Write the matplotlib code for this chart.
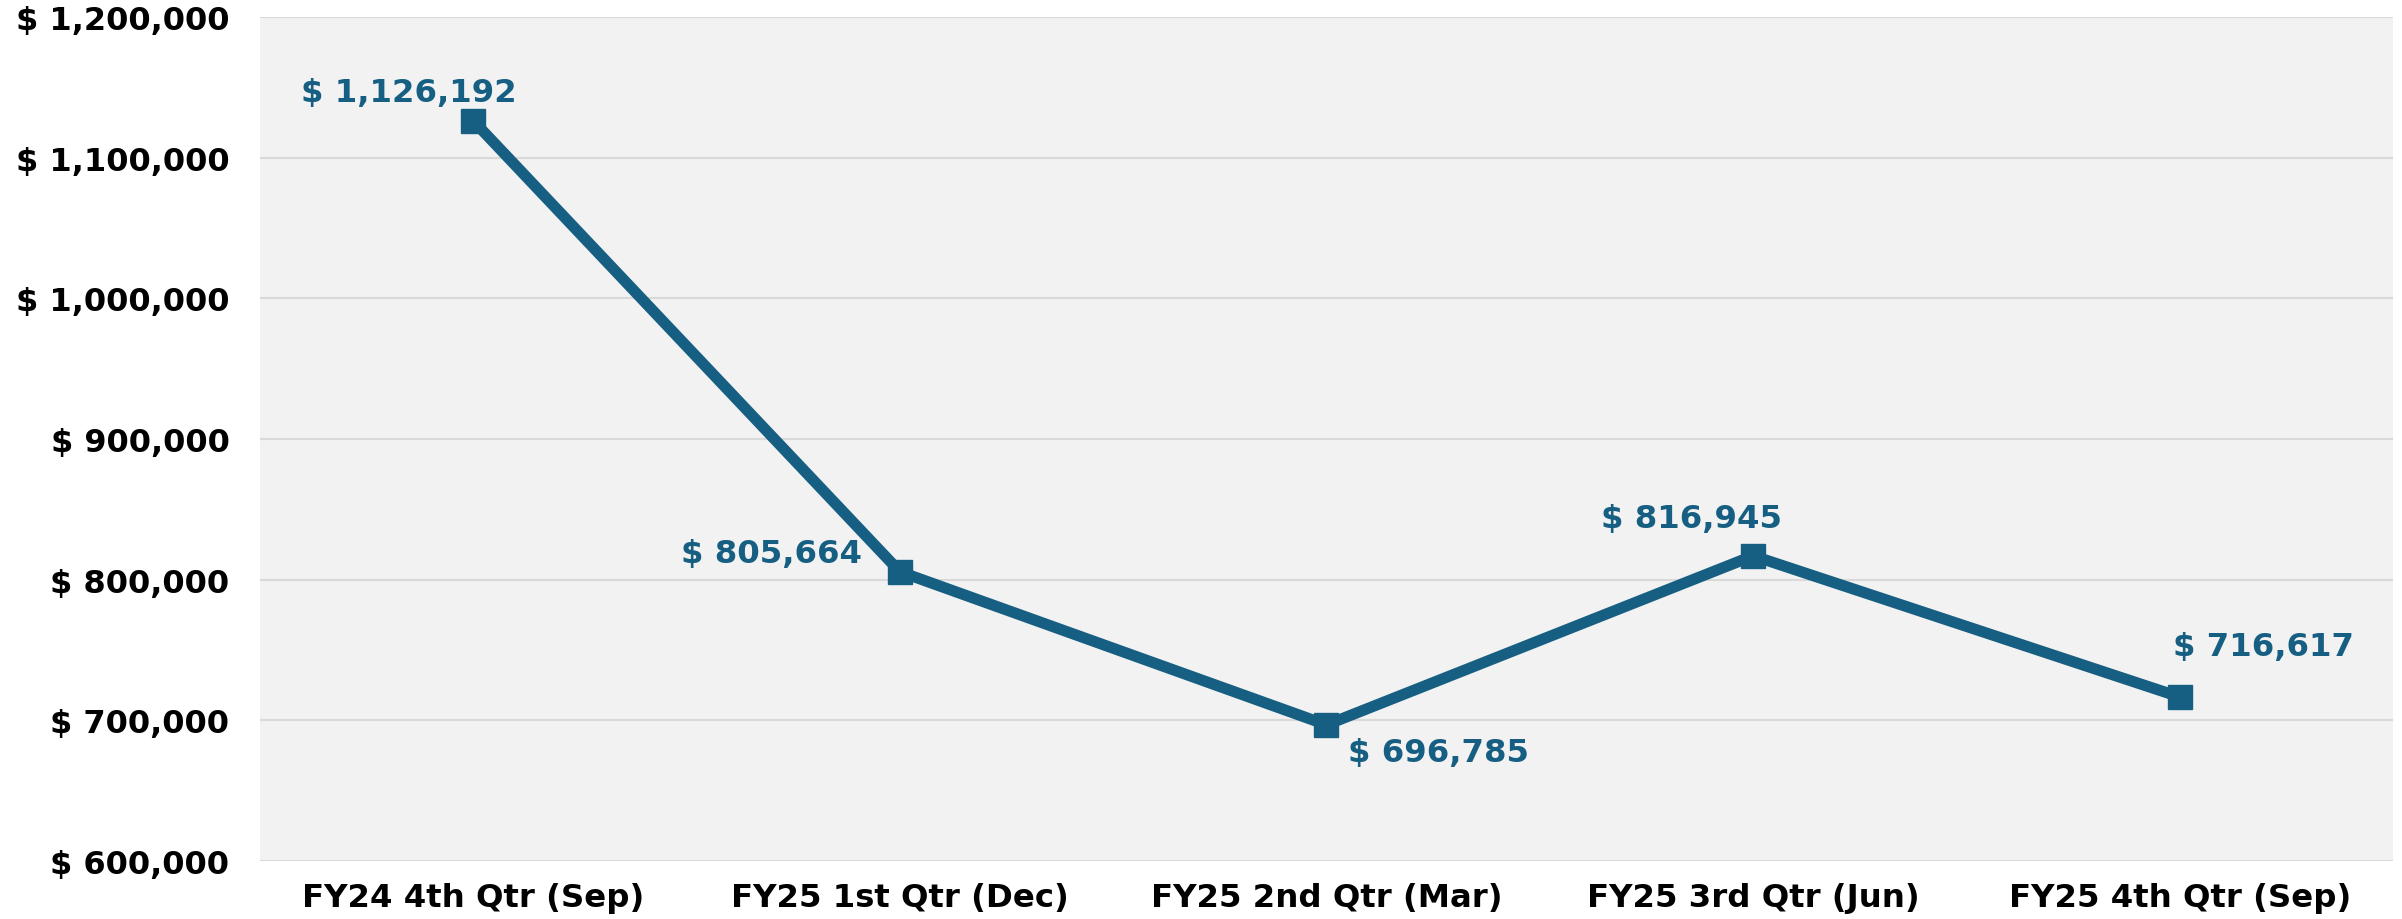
import matplotlib
matplotlib.use("Agg")
import matplotlib.pyplot as plt
from matplotlib.ticker import FuncFormatter

categories = ["FY24 4th Qtr (Sep)", "FY25 1st Qtr (Dec)", "FY25 2nd Qtr (Mar)",
              "FY25 3rd Qtr (Jun)", "FY25 4th Qtr (Sep)"]
values = [1126192, 805664, 696785, 816945, 716617]
yticks = [600000, 700000, 800000, 900000, 1000000, 1100000, 1200000]

color = "#175F82"
plt.rcParams['font.family'] = ['DejaVu Sans']

fig = plt.figure(figsize=(24.02, 9.2), dpi=100)
ax = fig.add_axes([260/2402, 1 - 862/920, (2393-260)/2402, (862-18)/920])
ax.set_facecolor("#F2F2F2")
x = list(range(len(categories)))
ax.plot(x, values, color=color, lw=8, marker="s", markersize=17, zorder=3,
        solid_capstyle="round", solid_joinstyle="round")
ax.set_xlim(-0.5, len(categories) - 0.5)
ax.set_ylim(600000, 1200000)
ax.set_yticks(yticks)
ax.yaxis.set_major_formatter(FuncFormatter(lambda v, p: f"$ {int(v):,}"))
ax.set_xticks(x)
ax.set_xticklabels(categories)
ax.grid(axis="y", color="#D9D9D9", lw=1.5)
ax.set_axisbelow(True)
for s in ax.spines.values():
    s.set_visible(False)
ax.tick_params(axis="x", length=0, labelsize=23.3, pad=15)
ax.tick_params(axis="y", length=0, labelsize=23, pad=22)
for lab in ax.get_xticklabels() + ax.get_yticklabels():
    lab.set_fontweight("bold")

offsets = [(-0.15, 20000, "center", "center"),
           (-0.09, 13000, "right", "center"),
           (0.05, -20000, "left", "center"),
           (-0.145, 26500, "center", "center"),
           (-0.015, 36000, "left", "center")]
for xi, v, (dx, dy, ha, va) in zip(x, values, offsets):
    ax.text(xi + dx, v + dy, f"$ {v:,}", color=color, fontsize=23.3,
            fontweight="bold", ha=ha, va=va)

fig.savefig("out.png", dpi=100)
